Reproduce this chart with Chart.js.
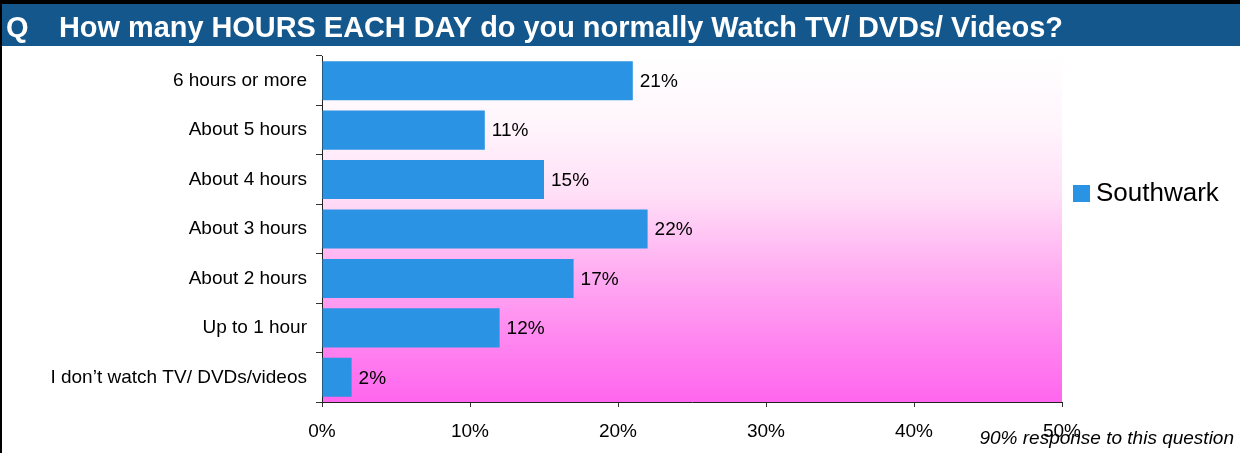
<!DOCTYPE html>
<html>
<head>
<meta charset="utf-8">
<script src="https://cdn.jsdelivr.net/npm/chart.js@4/dist/chart.umd.min.js"></script>
<style>
  html, body { margin: 0; padding: 0; background: #ffffff; }
  #wrap { width: 1240px; height: 453px; position: relative; }
</style>
</head>
<body>
<div id="wrap"><canvas id="chart" width="1240" height="453"></canvas></div>
<script>
// Survey answers, top to bottom
const categories = [
  '6 hours or more',
  'About 5 hours',
  'About 4 hours',
  'About 3 hours',
  'About 2 hours',
  'Up to 1 hour',
  'I don\u2019t watch TV/ DVDs/videos'
];
// Share of respondents (%)
const southwarkValues = [21, 11, 15, 22, 17, 12, 2];
const seriesName = 'Southwark';
const xTicks = [0, 10, 20, 30, 40, 50];

const questionTitle = 'How many HOURS EACH DAY do you normally Watch TV/ DVDs/ Videos?';
const footnote = '90% response to this question';

const FONT = '"Liberation Sans", Arial, Helvetica, sans-serif';
const BAR_COLOR = '#2a93e3';

// Page furniture: header band, left rule, plot background gradient
const backdrop = {
  id: 'backdrop',
  beforeDraw(chart) {
    const ctx = chart.ctx;
    const a = chart.chartArea;
    ctx.save();
    ctx.fillStyle = '#ffffff';
    ctx.fillRect(0, 0, chart.width, chart.height);

    const g = ctx.createLinearGradient(0, a.top, 0, a.bottom);
    g.addColorStop(0, '#ffffff');
    g.addColorStop(0.2, '#fff5fc');
    g.addColorStop(0.4, '#ffdff7');
    g.addColorStop(0.6, '#ffb2f2');
    g.addColorStop(0.8, '#ff8af0');
    g.addColorStop(1, '#ff66ee');
    ctx.fillStyle = g;
    ctx.fillRect(a.left, a.top, a.right - a.left, a.bottom - a.top);

    // header
    ctx.fillStyle = '#000000';
    ctx.fillRect(0, 0, chart.width, 4);
    ctx.fillStyle = '#13578c';
    ctx.fillRect(0, 4, chart.width, 42);
    ctx.fillStyle = '#000000';
    ctx.fillRect(0, 0, 2, chart.height);

    ctx.fillStyle = '#ffffff';
    ctx.textBaseline = 'alphabetic';
    ctx.textAlign = 'left';
    ctx.font = 'bold 29px ' + FONT;
    ctx.fillText('Q', 6, 37);
    ctx.font = 'bold 28.9px ' + FONT;
    ctx.fillText(questionTitle, 59, 37);
    ctx.restore();
  },
  afterDraw(chart) {
    const ctx = chart.ctx;
    ctx.save();
    // legend
    const ds = chart.data.datasets[0];
    ctx.fillStyle = ds.backgroundColor;
    ctx.fillRect(1073, 185, 17, 17);
    ctx.fillStyle = '#000000';
    ctx.font = '26px ' + FONT;
    ctx.textAlign = 'left';
    ctx.textBaseline = 'alphabetic';
    ctx.fillText(ds.label, 1096, 201);
    // footnote
    ctx.font = 'italic 19px ' + FONT;
    ctx.textAlign = 'right';
    ctx.fillText(footnote, 1234, 444);
    ctx.restore();
  }
};

// Value labels just past the end of each bar
const valueLabels = {
  id: 'valueLabels',
  afterDatasetsDraw(chart) {
    const ctx = chart.ctx;
    ctx.save();
    ctx.font = '19px ' + FONT;
    ctx.fillStyle = '#000000';
    ctx.textAlign = 'left';
    ctx.textBaseline = 'middle';
    chart.data.datasets.forEach((ds, di) => {
      chart.getDatasetMeta(di).data.forEach((bar, i) => {
        ctx.fillText(ds.data[i] + '%', bar.x + 7, bar.y + 1);
      });
    });
    ctx.restore();
  }
};

new Chart(document.getElementById('chart'), {
  type: 'bar',
  data: {
    labels: categories,
    datasets: [{
      label: seriesName,
      data: southwarkValues,
      backgroundColor: BAR_COLOR,
      borderWidth: 0,
      barPercentage: 0.79,
      categoryPercentage: 1.0
    }]
  },
  options: {
    indexAxis: 'y',
    responsive: false,
    animation: false,
    devicePixelRatio: 1,
    layout: { padding: { top: 56, right: 178, bottom: 0, left: 0 } },
    plugins: {
      legend: { display: false },
      title: { display: false },
      tooltip: { enabled: false }
    },
    scales: {
      x: {
        min: 0,
        max: 50,
        afterBuildTicks(scale) { scale.ticks = xTicks.map(v => ({ value: v })); },
        afterFit(scale) { scale.height = 51; },
        border: { display: true, color: '#222222', width: 1 },
        grid: { drawOnChartArea: false, drawTicks: true, tickLength: 5, color: '#333333' },
        ticks: {
          padding: 13,
          color: '#000000',
          font: { family: FONT, size: 19 },
          callback: v => v + '%'
        }
      },
      y: {
        afterFit(scale) { scale.width = 322; },
        border: { display: true, color: '#222222', width: 1 },
        grid: { drawOnChartArea: false, drawTicks: true, tickLength: 6, offset: true, color: '#333333' },
        ticks: {
          padding: 9,
          color: '#000000',
          font: { family: FONT, size: 19 }
        }
      }
    }
  },
  plugins: [backdrop, valueLabels]
});
</script>
</body>
</html>
